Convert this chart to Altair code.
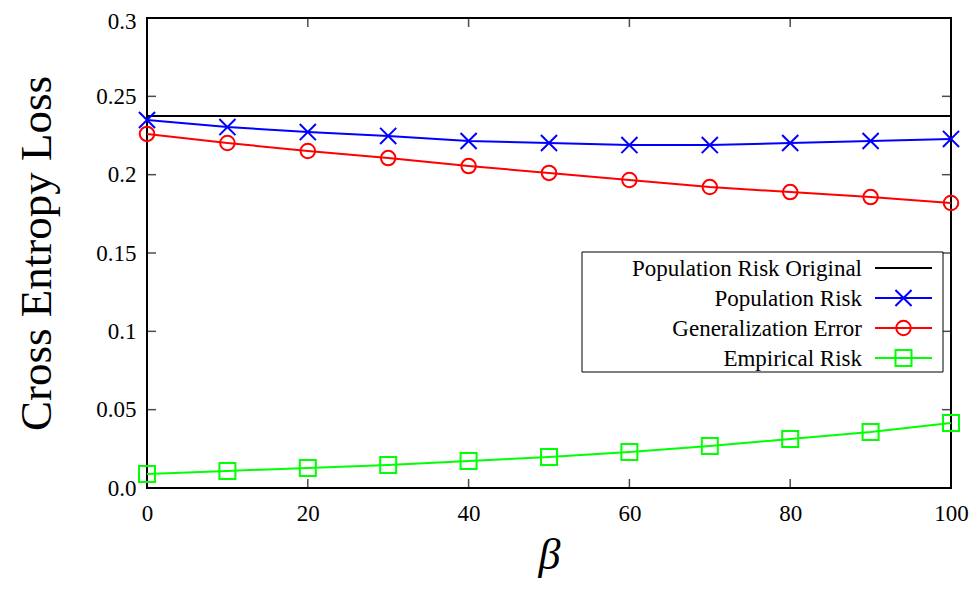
import altair as alt
import pandas as pd

beta = [0, 10, 20, 30, 40, 50, 60, 70, 80, 90, 100]
pop_orig = [0.2375, 0.2375, 0.2375, 0.2375, 0.2375, 0.2375, 0.2375, 0.2375, 0.2375, 0.2375, 0.2375]
pop_risk = [0.2349, 0.2304, 0.2272, 0.2247, 0.2215, 0.2202, 0.2189, 0.2189, 0.2202, 0.2215, 0.2228]
gen_err = [0.2260, 0.2202, 0.2151, 0.2106, 0.2055, 0.2011, 0.1966, 0.1921, 0.1889, 0.1857, 0.1819]
emp_risk = [0.0089, 0.0109, 0.0128, 0.0147, 0.0172, 0.0198, 0.0230, 0.0268, 0.0313, 0.0357, 0.0415]

series_names = ["Population Risk Original", "Population Risk", "Generalization Error", "Empirical Risk"]
series_vals = [pop_orig, pop_risk, gen_err, emp_risk]
series_colors = ["#000000", "#0000ff", "#ff0000", "#00ff00"]
series_shapes = [None, "M-1,-1L1,1M-1,1L1,-1", "circle", "square"]
series_sizes = [0, 260, 210, 256]

x_ticks = [0, 20, 40, 60, 80, 100]
y_ticks = [0.0, 0.05, 0.1, 0.15, 0.2, 0.25, 0.3]

FONT = "Liberation Serif"
W, H = 804, 470

xs = alt.Scale(domain=[0, 100], nice=False, zero=False)
ys = alt.Scale(domain=[0, 0.3], nice=False, zero=False)

x_axis = alt.Axis(values=x_ticks, title="β", titleFontStyle="italic", titleFontWeight="normal",
                  titleFontSize=44, titlePadding=8, labelFontSize=23, labelPadding=14,
                  labelFont=FONT, titleFont=FONT, ticks=False, domain=False, grid=False,
                  labelColor="black", titleColor="black", labelFlush=False)
y_axis = alt.Axis(values=y_ticks, title="Cross Entropy Loss", titleFontWeight="normal",
                  titleFontSize=45, titlePadding=36, labelFontSize=23, labelPadding=11,
                  labelFont=FONT, titleFont=FONT, ticks=False, domain=False, grid=False,
                  labelColor="black", titleColor="black", labelFlush=False,
                  labelOffset={"condition": {"test": "datum.value >= 0.3", "value": 3}, "value": 0},
                  labelExpr="datum.value == 0 ? '0.0' : toString(round(datum.value*100)/100)")


def X(field):
    return alt.X(field, scale=xs, axis=x_axis)


def Y(field):
    return alt.Y(field, scale=ys, axis=y_axis)


layers = []
for name, vals, col, shp, sz in zip(series_names, series_vals, series_colors, series_shapes, series_sizes):
    df = pd.DataFrame({"beta": beta, "val": vals})
    base = alt.Chart(df)
    layers.append(base.mark_line(color=col, strokeWidth=2, clip=True).encode(x=X("beta:Q"), y=Y("val:Q")))
    if shp is not None:
        layers.append(base.mark_point(shape=shp, filled=False, color=col, strokeWidth=2, size=sz,
                                      opacity=1).encode(x=X("beta:Q"), y=Y("val:Q")))

# inward ticks
tick_common = dict(color="black", thickness=1.5, size=18, clip=True)
inner_y = [v for v in y_ticks if 0 < v < 0.3]
inner_x = [v for v in x_ticks if 0 < v < 100]
for xv in [0, 100]:
    d = pd.DataFrame({"beta": [xv] * len(inner_y), "val": inner_y})
    layers.append(alt.Chart(d).mark_tick(orient="horizontal", **tick_common).encode(
        x=X("beta:Q"), y=Y("val:Q")))
for yv in [0, 0.3]:
    d = pd.DataFrame({"beta": inner_x, "val": [yv] * len(inner_x)})
    layers.append(alt.Chart(d).mark_tick(orient="vertical", **tick_common).encode(
        x=X("beta:Q"), y=Y("val:Q")))

# manual legend (symbols on right, gnuplot style)
one = pd.DataFrame({"a": [0]})
layers.append(alt.Chart(one).mark_rect(fill="white", stroke="black", strokeWidth=1).encode(
    x=alt.value(435), x2=alt.value(796), y=alt.value(234), y2=alt.value(354)))
row_y = [250, 280, 310, 340]
for name, col, shp, sz, ry in zip(series_names, series_colors, series_shapes, series_sizes, row_y):
    layers.append(alt.Chart(one).mark_text(align="right", baseline="middle", font=FONT, fontSize=23,
                                           color="black").encode(
        x=alt.value(715), y=alt.value(ry + 1), text=alt.value(name)))
    layers.append(alt.Chart(one).mark_rule(color=col, strokeWidth=2).encode(
        x=alt.value(728), x2=alt.value(785), y=alt.value(ry)))
    if shp is not None:
        layers.append(alt.Chart(one).mark_point(shape=shp, filled=False, color=col, strokeWidth=2,
                                                size=sz, opacity=1).encode(
            x=alt.value(756.5), y=alt.value(ry)))

chart = alt.layer(*layers).properties(
    width=W, height=H,
    autosize=alt.AutoSizeParams(type="none"),
    padding={"left": 139, "top": 10, "right": 19, "bottom": 94},
).configure(background="white").configure_view(stroke="black", strokeWidth=2)

chart.save("out.html", embed_options={"renderer": "svg", "actions": False})
